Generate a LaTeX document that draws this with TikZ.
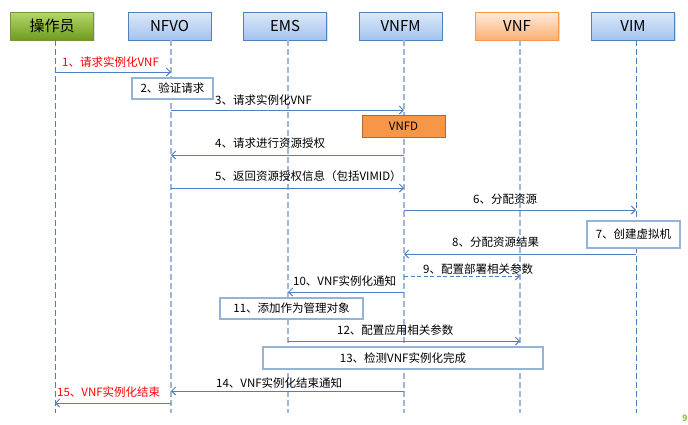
\documentclass[tikz,border=0pt]{standalone}
\usepackage{fontspec}
\setmainfont{Noto Sans CJK SC}
\usetikzlibrary{arrows.meta,shadows}
\definecolor{hbTop}{HTML}{DCE9F9}
\definecolor{hbBot}{HTML}{A4C3EE}
\definecolor{hbBorder}{HTML}{4F81BD}
\definecolor{hgTop}{HTML}{B5D86C}
\definecolor{hgBot}{HTML}{6E9B1E}
\definecolor{hgBorder}{HTML}{76923C}
\definecolor{hoTop}{HTML}{FDEBDC}
\definecolor{hoBot}{HTML}{FAB074}
\definecolor{hoBorder}{HTML}{F79646}
\definecolor{vnfdFill}{HTML}{F79646}
\definecolor{vnfdBorder}{HTML}{B7652A}
\definecolor{msgcol}{HTML}{4F7FC0}
\definecolor{lifeLight}{HTML}{9FB6DA}
\definecolor{lifeDark}{HTML}{4F7DBA}
\definecolor{boxBorder}{HTML}{95B3D7}
\definecolor{pageno}{HTML}{9BBB59}
\begin{document}
\begin{tikzpicture}[x=1pt,y=-1pt,
  head/.style={draw=hbBorder, line width=0.8pt, minimum width=83pt, minimum height=28pt,
    top color=hbTop, bottom color=hbBot, inner sep=0pt,
    font=\fontsize{15}{18}\selectfont,
    drop shadow={shadow xshift=1.2pt, shadow yshift=-1.2pt, opacity=0.25}},
  headgreen/.style={head, draw=hgBorder, top color=hgTop, bottom color=hgBot},
  headorange/.style={head, draw=hoBorder, top color=hoTop, bottom color=hoBot},
  lifelight/.style={draw=lifeLight, line width=1.3pt, dash pattern=on 6pt off 3pt},
  lifedark/.style={draw=lifeDark, line width=0.8pt, dash pattern=on 6pt off 3pt},
  msg/.style={draw=msgcol, line width=1pt, -{Straight Barb[length=4pt,width=8pt]}},
  dmsg/.style={msg, dash pattern=on 4pt off 2.5pt},
  lbl/.style={anchor=west, inner sep=0pt, font=\fontsize{11.5}{13}\selectfont},
  redlbl/.style={lbl, text=red},
  actbox/.style={draw=boxBorder, line width=1.8pt, fill=white, inner sep=0pt,
    font=\fontsize{11.5}{13}\selectfont},
  vnfdbox/.style={draw=vnfdBorder, line width=1pt, fill=vnfdFill, inner sep=0pt,
    minimum width=83pt, minimum height=22pt, font=\fontsize{11.5}{13}\selectfont}
]
\useasboundingbox (0,0) rectangle (688,424);

% header boxes
\node[headgreen]  (op)   at (52,26)    {操作员};
\node[head]       (nfvo) at (169.5,26) {NFVO};
\node[head]       (ems)  at (285,26)   {EMS};
\node[head]       (vnfm) at (400.5,26) {VNFM};
\node[headorange] (vnf)  at (517,26)   {VNF};
\node[head]       (vim)  at (633,26)   {VIM};

% lifelines
\coordinate (Lop)   at (55,40);
\coordinate (Lnfvo) at (171,40);
\coordinate (Lems)  at (288,40);
\coordinate (Lvnfm) at (404,40);
\coordinate (Lvnf)  at (520,40);
\coordinate (Lvim)  at (636,40);
\coordinate (bot) at (0,413);
\draw[lifedark]  (Lop)   -- (Lop |- bot);
\draw[lifelight] (Lnfvo) -- (Lnfvo |- bot);
\draw[lifelight] (Lems)  -- (Lems |- bot);
\draw[lifelight] (Lvnfm) -- (Lvnfm |- bot);
\draw[lifelight] (Lvnf)  -- (Lvnf |- bot);
\draw[lifedark]  (Lvim)  -- (Lvim |- bot);

% messages
\coordinate (y1) at (0,72);
\coordinate (y3) at (0,110);
\coordinate (y4) at (0,155);
\coordinate (y5) at (0,188);
\coordinate (y6) at (0,210);
\coordinate (y8) at (0,254);
\coordinate (y9) at (0,276);
\coordinate (y10) at (0,292);
\coordinate (y12) at (0,341);
\coordinate (y14) at (0,391);
\coordinate (y15) at (0,403);
\draw[msg]  (Lop |- y1)    -- (Lnfvo |- y1);
\draw[msg]  (Lnfvo |- y3)  -- (Lvnfm |- y3);
\draw[msg]  (Lvnfm |- y4)  -- (Lnfvo |- y4);
\draw[msg]  (Lnfvo |- y5)  -- (Lvnfm |- y5);
\draw[msg]  (Lvnfm |- y6)  -- (Lvim |- y6);
\draw[msg]  (Lvim |- y8)   -- (Lvnfm |- y8);
\draw[dmsg] (Lvnfm |- y9)  -- (Lvnf |- y9);
\draw[msg]  (Lvnfm |- y10) -- (Lems |- y10);
\draw[msg]  (Lems |- y12)  -- (Lvnf |- y12);
\draw[msg]  (Lvnfm |- y14) -- (Lnfvo |- y14);
\draw[msg]  (Lnfvo |- y15) -- (Lop |- y15);

% activity boxes
\node[actbox, minimum width=81pt, minimum height=21pt]  (b2)  at (172.5,88.5) {2、验证请求};
\node[vnfdbox] (vnfd) at (403.5,126) {VNFD};
\node[actbox, minimum width=93pt, minimum height=27pt]  (b7)  at (633.5,234.5) {7、创建虚拟机};
\node[actbox, minimum width=143pt, minimum height=21pt] (b11) at (291.5,308.5) {11、添加作为管理对象};
\node[actbox, minimum width=280pt, minimum height=22pt] (b13) at (403,358) {13、检测VNF实例化完成};

% labels
\node[redlbl] (t1)  at (62,62)   {1、请求实例化VNF};
\node[lbl]    (t3)  at (215,100) {3、请求实例化VNF};
\node[lbl]    (t4)  at (215,143) {4、请求进行资源授权};
\node[lbl]    (t5)  at (215,176) {5、返回资源授权信息（包括VIMID）};
\node[lbl]    (t6)  at (473,199) {6、分配资源};
\node[lbl]    (t8)  at (452,242) {8、分配资源结果};
\node[lbl]    (t9)  at (423,269) {9、配置部署相关参数};
\node[lbl]    (t10) at (293,281) {10、VNF实例化通知};
\node[lbl]    (t12) at (337,330) {12、配置应用相关参数};
\node[lbl]    (t14) at (216,383) {14、VNF实例化结束通知};
\node[redlbl] (t15) at (57,392)  {15、VNF实例化结束};

\node[anchor=west, inner sep=0pt, text=pageno, font=\bfseries\fontsize{9}{10}\selectfont] (pg) at (682,418) {9};
\end{tikzpicture}
\end{document}
